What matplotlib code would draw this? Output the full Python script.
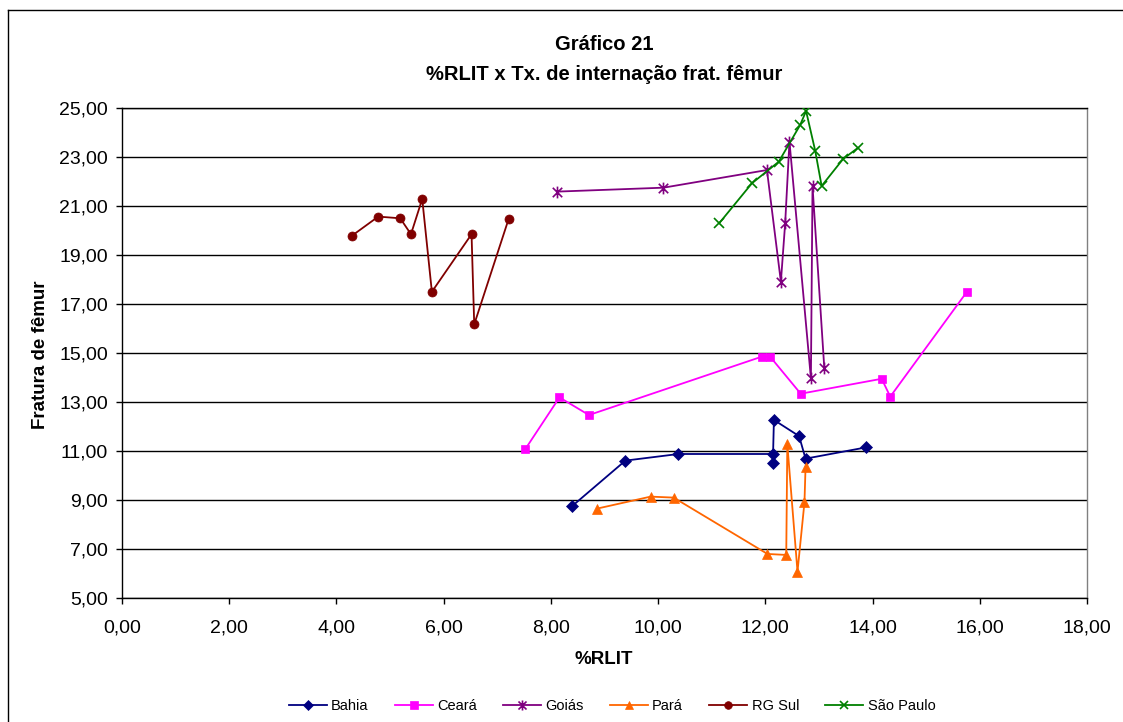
import matplotlib
matplotlib.use("Agg")
import matplotlib.pyplot as plt
from matplotlib.path import Path
from matplotlib.ticker import FuncFormatter, FixedLocator
from matplotlib.lines import Line2D

plt.rcParams['font.family'] = ['Liberation Sans', 'DejaVu Sans']

# ---- data ----
bahia_x = [8.40, 9.39, 10.38, 12.14, 12.14, 12.16, 12.63, 12.75, 13.88]
bahia_y = [8.77, 10.62, 10.89, 10.89, 10.51, 12.28, 11.62, 10.70, 11.16]

ceara_x = [7.52, 8.16, 8.71, 11.93, 12.09, 12.66, 14.17, 14.33, 15.76]
ceara_y = [11.08, 13.20, 12.48, 14.86, 14.86, 13.35, 13.96, 13.23, 17.51]

goias_x = [8.12, 10.10, 12.03, 12.29, 12.37, 12.45, 12.85, 12.88, 13.10]
goias_y = [21.60, 21.76, 22.48, 17.92, 20.31, 23.64, 13.98, 21.83, 14.39]

para_x = [8.86, 9.86, 10.29, 12.04, 12.39, 12.41, 12.60, 12.73, 12.75]
para_y = [8.66, 9.15, 9.11, 6.81, 6.77, 11.29, 6.09, 8.92, 10.35]

rgsul_x = [4.29, 4.78, 5.19, 5.39, 5.60, 5.78, 6.52, 6.57, 7.21]
rgsul_y = [19.80, 20.58, 20.51, 19.86, 21.30, 17.51, 19.86, 16.18, 20.47]

sp_x = [11.14, 11.75, 12.25, 12.65, 12.76, 12.93, 13.05, 13.45, 13.73]
sp_y = [20.31, 21.94, 22.82, 24.32, 24.89, 23.27, 21.83, 22.93, 23.39]

series_names = ["Bahia", "Ceará", "Goiás", "Pará", "RG Sul", "São Paulo"]
x_ticks = [0, 2, 4, 6, 8, 10, 12, 14, 16, 18]
y_ticks = [5, 7, 9, 11, 13, 15, 17, 19, 21, 23, 25]
title_lines = ["Gráfico 21", "%RLIT x Tx. de internação frat. fêmur"]
xlabel = "%RLIT"
ylabel = "Fratura de fêmur"

# ---- styles ----
star = Path([(0, -1), (0, 1), (-0.8, -0.8), (0.8, 0.8), (-0.8, 0.8), (0.8, -0.8)],
            [Path.MOVETO, Path.LINETO, Path.MOVETO, Path.LINETO, Path.MOVETO, Path.LINETO])

styles = [
    dict(color="#000080", marker="D", ms=6.0, filled=True),
    dict(color="#FF00FF", marker="s", ms=6.0, filled=True),
    dict(color="#800080", marker=star, ms=8.5, filled=False),
    dict(color="#FF6600", marker="^", ms=7.5, filled=True),
    dict(color="#800000", marker="o", ms=6.5, filled=True),
    dict(color="#008000", marker="x", ms=7.0, filled=False),
]
data = [(bahia_x, bahia_y), (ceara_x, ceara_y), (goias_x, goias_y),
        (para_x, para_y), (rgsul_x, rgsul_y), (sp_x, sp_y)]

W, H = 1123, 722
fig = plt.figure(figsize=(W / 100, H / 100), dpi=100)
ax = fig.add_axes([122 / W, (H - 598.3) / H, 965 / W, 490 / H])

handles = []
for (xs, ys), st, name in zip(data, styles, series_names):
    line, = ax.plot(xs, ys, color=st["color"], lw=1.3, marker=st["marker"], ms=st["ms"],
                    mfc=st["color"], mec=st["color"],
                    mew=0.5 if st["filled"] else 1.2,
                    label=name, zorder=3)
    handles.append(line)

ax.set_xlim(0, 18)
ax.set_ylim(5, 25)
ax.xaxis.set_major_locator(FixedLocator(x_ticks))
ax.yaxis.set_major_locator(FixedLocator(y_ticks))
fmt = FuncFormatter(lambda v, p: f"{v:.2f}".replace(".", ","))
ax.xaxis.set_major_formatter(fmt)
ax.yaxis.set_major_formatter(fmt)
ax.tick_params(axis="both", direction="out", length=4, width=1, color="black",
               labelsize=14, pad=6)
ax.tick_params(axis="x", pad=11)

ax.grid(axis="y", color="black", lw=1.0, zorder=1)
ax.set_axisbelow(True)
for s in ["left", "bottom", "top"]:
    ax.spines[s].set_color("black")
    ax.spines[s].set_linewidth(1.0)
ax.spines["right"].set_color("#808080")
ax.spines["right"].set_linewidth(1.0)

# titles and labels
fig.text(604 / W, 1 - 45 / H, title_lines[0], ha="center", va="center",
         fontsize=14.5, fontweight="bold")
fig.text(604 / W, 1 - 75 / H, title_lines[1], ha="center", va="center",
         fontsize=14.5, fontweight="bold")
fig.text(604 / W, 1 - 660 / H, xlabel, ha="center", va="center",
         fontsize=13.5, fontweight="bold")
fig.text(41 / W, 1 - 355 / H, ylabel, ha="center", va="center", rotation=90,
         fontsize=13.5, fontweight="bold")

fig.legend(handles=handles, loc="center", bbox_to_anchor=(612 / W, 1 - 706 / H),
           ncol=6, frameon=False, fontsize=10.5, handlelength=2.6,
           handletextpad=0.3, columnspacing=1.8, markerscale=0.85)

# outer chart frame
fig.add_artist(Line2D([8 / W, 8 / W], [1 - 10 / H, -0.05], transform=fig.transFigure,
                      color="black", lw=1.0))
fig.add_artist(Line2D([8 / W, 1.05], [1 - 10 / H, 1 - 10 / H], transform=fig.transFigure,
                      color="black", lw=1.0))

fig.savefig("out.png", dpi=100)
